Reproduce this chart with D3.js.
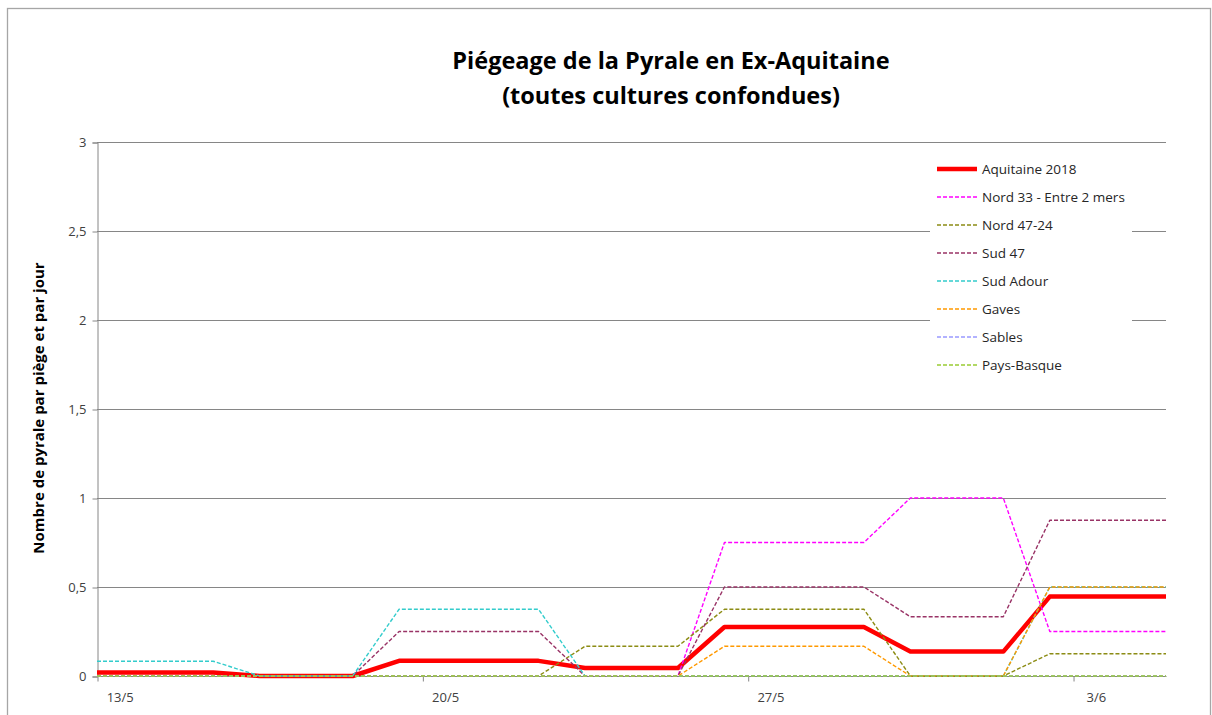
<!DOCTYPE html>
<html>
<head>
<meta charset="utf-8">
<script src="https://cdn.jsdelivr.net/npm/d3@7"></script>
<style>
  body { margin: 0; background: #fff; }
  text { font-family: "Open Sans", sans-serif; }
</style>
</head>
<body>
<svg width="1212" height="715"></svg>
<script>
// trap reading dates (points of the lines)
var dates = ["2018-05-13 00:00", "2018-05-15 12:00", "2018-05-16 12:00", "2018-05-18 12:00",
             "2018-05-19 12:00", "2018-05-22 12:00", "2018-05-23 12:00", "2018-05-25 12:00",
             "2018-05-26 12:00", "2018-05-29 12:00", "2018-05-30 12:00", "2018-06-01 12:00",
             "2018-06-02 12:00", "2018-06-05 00:00"];

var aquitaine = [0.02, 0.02, 0, 0, 0.085, 0.085, 0.045, 0.045, 0.275, 0.275, 0.137, 0.137, 0.446, 0.446];
var nord33    = [0, 0, 0, 0, 0, 0, 0, 0, 0.75, 0.75, 1, 1, 0.25, 0.25];
var nord4724  = [0, 0, 0, 0, 0, 0, 0.167, 0.167, 0.375, 0.375, 0, 0, 0.125, 0.125];
var sud47     = [0, 0, 0, 0, 0.25, 0.25, 0, 0, 0.5, 0.5, 0.333, 0.333, 0.875, 0.875];
var sudAdour  = [0.083, 0.083, 0, 0, 0.375, 0.375, 0, 0, 0, 0, 0, 0, 0.5, 0.5];
var gaves     = [0, 0, 0, 0, 0, 0, 0, 0, 0.167, 0.167, 0, 0, 0.5, 0.5];
var sables    = [0, 0, 0, 0, 0, 0, 0, 0, 0, 0, 0, 0, 0, 0];
var paysBasque = [0, 0, 0, 0, 0, 0, 0, 0, 0, 0, 0, 0, 0, 0];

var seriesNames = ["Aquitaine 2018", "Nord 33 - Entre 2 mers", "Nord 47-24", "Sud 47",
                   "Sud Adour", "Gaves", "Sables", "Pays-Basque"];
var seriesValues = [aquitaine, nord33, nord4724, sud47, sudAdour, gaves, sables, paysBasque];
var seriesColors = ["#ff0000", "#ff00ff", "#8c8c14", "#993366", "#33cccc", "#ff9900", "#9999ff", "#99cc33"];

var tickDates = ["2018-05-13", "2018-05-20", "2018-05-27", "2018-06-03"];
var yTicks = [0, 0.5, 1, 1.5, 2, 2.5, 3];

var svg = d3.select("svg");
var parse = d3.timeParse("%Y-%m-%d %H:%M"),
    parseDay = d3.timeParse("%Y-%m-%d");

var x = d3.scaleTime()
    .domain([parseDay("2018-05-13"), parseDay("2018-06-05")])
    .range([97, 1166]);
var y = d3.scaleLinear().domain([0, 3]).range([676, 142]);

// chart border
svg.append("rect")
    .attr("x", 7.5).attr("y", 8.5)
    .attr("width", 1203).attr("height", 720)
    .attr("fill", "none").attr("stroke", "#a6a6a6").attr("stroke-width", 1.3);

// title
var title = svg.append("text")
    .attr("text-anchor", "middle")
    .attr("font-size", 23.5).attr("font-weight", "bold").attr("fill", "#000");
title.append("tspan").attr("x", 671).attr("y", 69).text("Piégeage de la Pyrale en Ex-Aquitaine");
title.append("tspan").attr("x", 671).attr("y", 104).text("(toutes cultures confondues)");

// gridlines
svg.append("g").selectAll("line")
    .data(yTicks.filter(function(d) { return d > 0; }))
    .enter().append("line")
      .attr("x1", 97).attr("x2", 1166)
      .attr("y1", function(d) { return y(d) + 0.5; })
      .attr("y2", function(d) { return y(d) + 0.5; })
      .attr("stroke", "#868686").attr("stroke-width", 1);

// y axis
var yAxis = svg.append("g")
    .attr("transform", "translate(97.5,0.5)")
    .call(d3.axisLeft(y).tickValues(yTicks).tickSize(5).tickPadding(6)
      .tickFormat(function(d) { return String(d).replace(".", ","); }));
yAxis.select(".domain").attr("stroke", "#868686");
yAxis.selectAll(".tick line").attr("stroke", "#868686");
yAxis.selectAll(".tick text")
    .attr("font-family", "Open Sans, sans-serif").attr("font-size", 13).attr("fill", "#404040");

// x axis
var xAxis = svg.append("g")
    .attr("transform", "translate(0.5,676.5)")
    .call(d3.axisBottom(x).tickValues(tickDates.map(parseDay)).tickSize(5).tickFormat(""));
xAxis.select(".domain").attr("stroke", "#868686").attr("d", "M97,0H1166");
xAxis.selectAll(".tick line").attr("stroke", "#868686");

svg.append("g").selectAll("text")
    .data(tickDates)
    .enter().append("text")
      .attr("x", function(d) { return x(d3.timeHour.offset(parseDay(d), 12)); })
      .attr("y", 702)
      .attr("text-anchor", "middle")
      .attr("font-size", 13).attr("fill", "#404040")
      .text(function(d) { return d3.timeFormat("%-d/%-m")(parseDay(d)); });

// y axis title
svg.append("text")
    .attr("transform", "translate(44,408) rotate(-90)")
    .attr("text-anchor", "middle")
    .attr("font-size", 15).attr("font-weight", "bold").attr("fill", "#000")
    .text("Nombre de pyrale par piège et par jour");

// lines, first series drawn first (at the bottom)
var line = d3.line()
    .x(function(d, i) { return x(parse(dates[i])); })
    .y(function(d) { return y(d); });

svg.append("g").selectAll("path")
    .data(seriesValues)
    .enter().append("path")
      .attr("d", function(d) { return line(d); })
      .attr("fill", "none")
      .attr("stroke", function(d, i) { return seriesColors[i]; })
      .attr("stroke-width", function(d, i) { return i === 0 ? 4.5 : 1.4; })
      .attr("stroke-dasharray", function(d, i) { return i === 0 ? null : "4,2"; })
      .attr("stroke-linejoin", "round");

// legend
var legend = svg.append("g");
legend.append("rect")
    .attr("x", 930).attr("y", 152).attr("width", 202).attr("height", 228)
    .attr("fill", "#fff");
var item = legend.selectAll(".item")
    .data(seriesNames)
    .enter().append("g")
      .attr("class", "item")
      .attr("transform", function(d, i) { return "translate(0," + (169 + i * 28) + ")"; });
item.append("line")
    .attr("x1", 937).attr("x2", 977).attr("y1", 0).attr("y2", 0)
    .attr("stroke", function(d, i) { return seriesColors[i]; })
    .attr("stroke-width", function(d, i) { return i === 0 ? 4.5 : 1.4; })
    .attr("stroke-dasharray", function(d, i) { return i === 0 ? null : "4,2"; });
item.append("text")
    .attr("x", 982).attr("dy", "0.35em")
    .attr("font-size", 13.5).attr("fill", "#262626")
    .text(function(d) { return d; });
</script>
</body>
</html>
